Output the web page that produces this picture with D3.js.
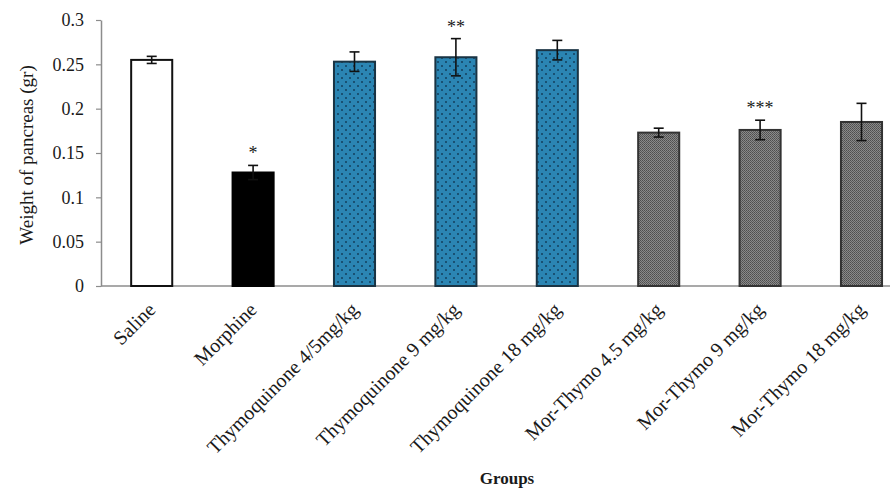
<!DOCTYPE html>
<html><head><meta charset="utf-8">
<script src="https://cdn.jsdelivr.net/npm/d3@7"></script>
<style>
html,body{margin:0;padding:0;background:#fff;}
svg{display:block;}
text{font-family:"Liberation Serif","Times New Roman",serif;fill:#1a1a1a;}
</style></head>
<body>
<svg id="chart" width="890" height="490"></svg>
<script>
const categories = ["Saline","Morphine","Thymoquinone 4/5mg/kg","Thymoquinone 9 mg/kg","Thymoquinone 18 mg/kg","Mor-Thymo 4.5 mg/kg","Mor-Thymo 9 mg/kg","Mor-Thymo 18 mg/kg"];
const means = [0.255, 0.128, 0.253, 0.258, 0.266, 0.173, 0.176, 0.185];
const errors = [0.004, 0.008, 0.011, 0.021, 0.011, 0.005, 0.011, 0.021];
const signif = ["", "*", "", "**", "", "", "***", ""];
const groupStyle = ["white","black","blue","blue","blue","gray","gray","gray"];
const yTicks = [0, 0.05, 0.1, 0.15, 0.2, 0.25, 0.3];
const yTickLabels = ["0","0.05","0.1","0.15","0.2","0.25","0.3"];

const svg = d3.select("#chart");
const defs = svg.append("defs");
const pb = defs.append("pattern").attr("id","dotsBlue").attr("patternUnits","userSpaceOnUse")
  .attr("width",8).attr("height",8);
pb.append("rect").attr("width",8).attr("height",8).attr("fill","#2b85b3");
pb.append("circle").attr("cx",2).attr("cy",2).attr("r",1).attr("fill","#123f5e");
pb.append("circle").attr("cx",6).attr("cy",6).attr("r",1).attr("fill","#123f5e");
const pg = defs.append("pattern").attr("id","checkGray").attr("patternUnits","userSpaceOnUse")
  .attr("width",2).attr("height",2);
pg.append("rect").attr("width",2).attr("height",2).attr("fill","#8a8a8a");
pg.append("rect").attr("width",1).attr("height",1).attr("fill","#4e4e4e");
pg.append("rect").attr("x",1).attr("y",1).attr("width",1).attr("height",1).attr("fill","#5a5a5a");

const fills = {white:"#ffffff", black:"#000000", blue:"url(#dotsBlue)", gray:"url(#checkGray)"};
const strokes = {white:"#111", black:"#000", blue:"#1a3444", gray:"#333"};

const x0 = 101, y0 = 286;
const x = d3.scaleBand().domain(categories).range([x0, x0 + 8*101.4])
  .paddingInner(0.595).paddingOuter(0.2975);
const y = d3.scaleLinear().domain([0, 0.3]).range([y0, 20]);

// y axis
const yAxis = d3.axisLeft(y).tickValues(yTicks).tickFormat((d,i)=>yTickLabels[i]).tickSize(5).tickSizeOuter(0);
const gy = svg.append("g").attr("transform",`translate(${x0},0)`).call(yAxis);
gy.select(".domain").attr("stroke","#8c8c8c").attr("stroke-width",1.5);
gy.selectAll(".tick line").attr("stroke","#8c8c8c").attr("stroke-width",1.2);
gy.selectAll(".tick text").attr("font-size",18).attr("x",-17).attr("dy","0.32em")
  .style("font-family","'Liberation Serif',serif").attr("fill","#1a1a1a");

// x axis line
svg.append("line").attr("x1",x0).attr("x2",890).attr("y1",y0).attr("y2",y0)
  .attr("stroke","#8c8c8c").attr("stroke-width",1.5);

// bars
svg.append("g").selectAll("rect").data(categories).join("rect")
  .attr("x", d=>x(d)).attr("width", x.bandwidth())
  .attr("y", (d,i)=>y(means[i])).attr("height",(d,i)=>y0 - y(means[i]))
  .attr("fill",(d,i)=>fills[groupStyle[i]])
  .attr("stroke",(d,i)=>strokes[groupStyle[i]]).attr("stroke-width",2);

// error bars
const eb = svg.append("g").attr("stroke","#111").attr("stroke-width",1.6);
categories.forEach((c,i)=>{
  const cx = x(c) + x.bandwidth()/2;
  const top = y(means[i]+errors[i]), bot = y(means[i]-errors[i]);
  eb.append("line").attr("x1",cx).attr("x2",cx).attr("y1",top).attr("y2",bot);
  eb.append("line").attr("x1",cx-5).attr("x2",cx+5).attr("y1",top).attr("y2",top);
  eb.append("line").attr("x1",cx-5).attr("x2",cx+5).attr("y1",bot).attr("y2",bot);
});

// significance
svg.append("g").selectAll("text").data(categories).join("text")
  .attr("x", d=>x(d)+x.bandwidth()/2)
  .attr("y", (d,i)=>y(means[i]+errors[i]) - 6)
  .attr("text-anchor","middle").attr("font-size",18)
  .text((d,i)=>signif[i]);

// category labels
svg.append("g").selectAll("text").data(categories).join("text")
  .attr("transform", d=>`translate(${x(d)+x.bandwidth()/2+5},311) rotate(-45)`)
  .attr("text-anchor","end").attr("font-size",20)
  .text(d=>d);

// axis titles
svg.append("text").attr("transform","translate(33,155) rotate(-90)")
  .attr("text-anchor","middle").attr("font-size",19).text("Weight of pancreas (gr)");
svg.append("text").attr("x",507).attr("y",484).attr("text-anchor","middle")
  .attr("font-size",17).attr("font-weight","bold").text("Groups");
</script>
</body></html>
